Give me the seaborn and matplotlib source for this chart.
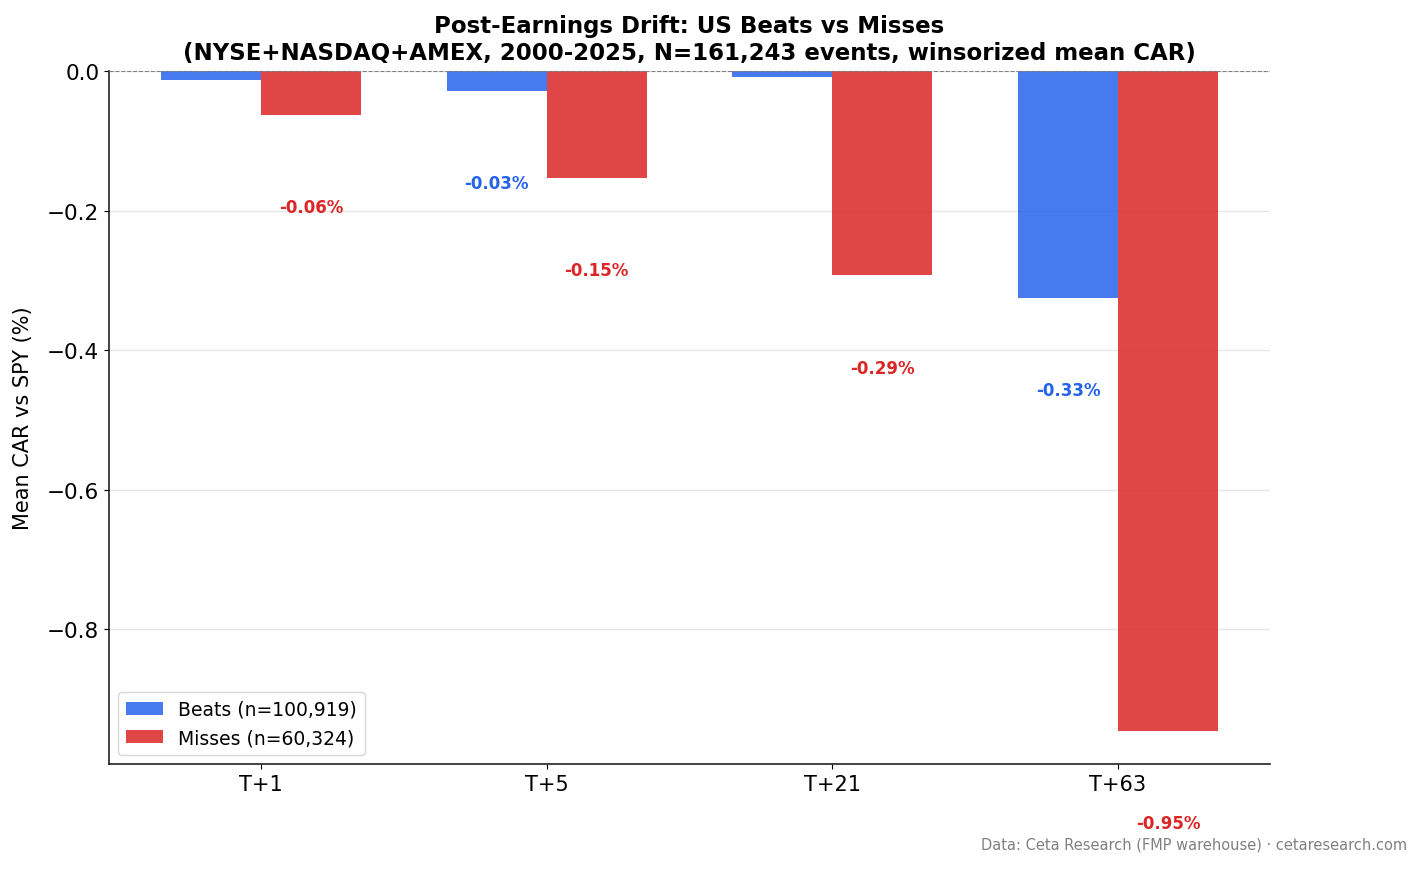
import matplotlib
matplotlib.use("Agg")
import matplotlib.pyplot as plt
import pandas as pd
import seaborn as sns

# data
horizons = ["T+1", "T+5", "T+21", "T+63"]
beats_car = [-0.013, -0.029, -0.008, -0.325]
misses_car = [-0.063, -0.153, -0.293, -0.946]
beats_label = "Beats (n=100,919)"
misses_label = "Misses (n=60,324)"

blue = "#2563EB"
red = "#DC2626"

df = pd.DataFrame({
    "horizon": horizons * 2,
    "car": beats_car + misses_car,
    "group": [beats_label] * 4 + [misses_label] * 4,
})

fig, ax = plt.subplots(figsize=(14.21, 8.7), dpi=100)
sns.barplot(data=df, x="horizon", y="car", hue="group", order=horizons,
            hue_order=[beats_label, misses_label],
            palette=[blue, red], alpha=0.85, width=0.7, saturation=1,
            errorbar=None, ax=ax, zorder=2)

ax.axhline(0, color="gray", linestyle="--", linewidth=0.8, zorder=3)
ax.grid(axis="y", color="#e6e6e6", linewidth=1, zorder=0)
ax.set_axisbelow(True)
ax.spines["top"].set_visible(False)
ax.spines["right"].set_visible(False)
for s in ("left", "bottom"):
    ax.spines[s].set_color("#222222")
    ax.spines[s].set_linewidth(1.2)

ymin = min(misses_car + beats_car) * 1.05
ax.set_ylim(ymin, 0)
ax.set_xlim(-0.532, len(horizons) - 1 + 0.532)

# value labels (tiny ones skipped)
for i, (b, m) in enumerate(zip(beats_car, misses_car)):
    if abs(b) >= 0.02:
        ax.text(i - 0.175, b - 0.132, f"{b:.2f}%", ha="center", va="center",
                color=blue, fontsize=12, fontweight="bold", clip_on=False)
    if abs(m) >= 0.02:
        ax.text(i + 0.175, m - 0.132, f"{m:.2f}%", ha="center", va="center",
                color=red, fontsize=12, fontweight="bold", clip_on=False)

ax.set_xlabel("")
ax.set_ylabel("Mean CAR vs SPY (%)", fontsize=15, labelpad=10)
ax.tick_params(axis="x", labelsize=15)
ax.tick_params(axis="y", labelsize=15.5)
ax.set_title("Post-Earnings Drift: US Beats vs Misses\n"
             "(NYSE+NASDAQ+AMEX, 2000-2025, N=161,243 events, winsorized mean CAR)",
             fontsize=16.5, fontweight="bold", pad=9)
ax.legend(loc="lower left", fontsize=13.5, title=None)

fig.text(0.99, 0.02, "Data: Ceta Research (FMP warehouse) \u00b7 cetaresearch.com",
         ha="right", va="bottom", fontsize=10.5, color="gray")

fig.subplots_adjust(left=0.0767, right=0.8937, top=0.9172, bottom=0.1207)
fig.savefig("out.png", dpi=100)
